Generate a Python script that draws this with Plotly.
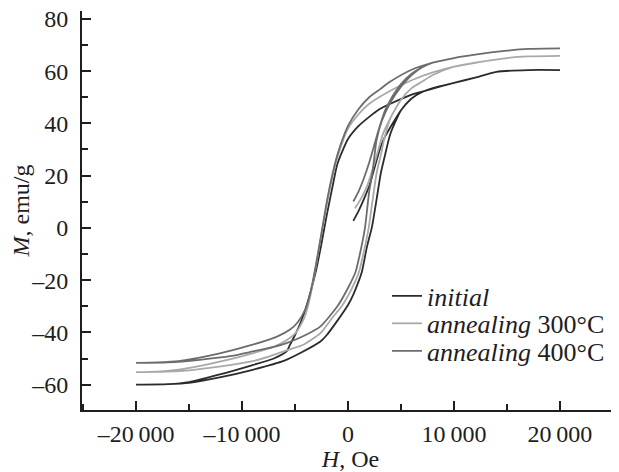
import plotly.graph_objects as go

# ---- data (H in Oe, M in emu/g) ----
series_names = ["<i>initial</i>", "<i>annealing</i> 300°C", "<i>annealing</i> 400°C"]

# initial sample
init0_H = [500, 1000, 1500, 2000, 2500, 3000, 3500, 4000, 5000, 6000, 7000, 8000, 10000, 12000, 14000, 17000, 20000]
init0_M = [2.7, 6.5, 11, 16, 23, 30, 35, 38.5, 45, 49.5, 52, 53.5, 55.5, 57.5, 59.7, 60.4, 60.4]
desc0_H = [20000, 17000, 14000, 12000, 10000, 8000, 6000, 4000, 3000, 2000, 1000, 0, -1000, -1500, -2000, -2500, -3000, -3500, -4000, -4500, -5000, -5500, -5800, -7000, -9000, -12000, -15000, -17000, -20000]
desc0_M = [60.4, 60.4, 59.7, 57.5, 55.5, 53.3, 51, 47.5, 45.5, 42.5, 39, 34, 24.5, 15, 5, -6, -16, -24, -31, -36.5, -41, -45, -47.3, -50, -52.5, -56, -59, -59.8, -60]
asc0_H = [-20000, -17000, -15000, -12000, -9000, -6000, -4500, -2600, -2000, -1000, 0, 500, 1000, 1300, 1800, 2240, 2700, 3100, 3500, 4000, 5000, 6000, 7000, 8000, 10000, 12000, 14000, 17000, 20000]
asc0_M = [-60, -59.8, -59.3, -57.1, -54.3, -50.8, -47.9, -43.5, -41, -35.5, -29.5, -25.5, -20.5, -17, -7, 0, 11, 21, 28, 36, 45, 49.5, 52, 53.5, 55.5, 57.5, 59.7, 60.4, 60.4]

# annealing 300 C
init1_H = [660, 1200, 1800, 2300, 2800, 3300, 4000, 5000, 6000, 7000, 8000, 10000, 12000, 15000, 17000, 20000]
init1_M = [7.5, 11, 16, 22, 29, 36, 42, 49, 53.5, 56, 58.5, 61.7, 63.2, 65, 65.6, 65.8]
desc1_H = [20000, 17000, 15000, 12000, 10000, 8000, 6000, 4000, 2000, 1000, 0, -1000, -1500, -2000, -2500, -3000, -3500, -4000, -4500, -5000, -5800, -7000, -9000, -12000, -16000, -18000, -20000]
desc1_M = [65.8, 65.6, 65, 63.2, 61.7, 59.5, 56.5, 52.5, 47.5, 43.5, 38, 27, 19, 9, -2, -14, -25, -33, -37.5, -40.5, -43, -45.5, -48, -51.1, -54.3, -55, -55.2]
asc1_H = [-20000, -17000, -15000, -12000, -9000, -7400, -5500, -4200, -2600, -1500, -600, 0, 1000, 1500, 1950, 2300, 2700, 3100, 3400, 4000, 5000, 6000, 7000, 8000, 10000, 12000, 15000, 17000, 20000]
asc1_M = [-55.2, -55, -54.5, -53, -51, -49.2, -46.5, -44.7, -40.3, -34.5, -30, -26, -17.3, -9, 0, 10, 21, 28, 33.7, 42, 49, 53.5, 56, 58.5, 61.7, 63.2, 65, 65.6, 65.8]

# annealing 400 C
init2_H = [500, 1000, 1500, 2000, 2500, 3000, 3500, 4000, 5000, 6000, 7000, 8000, 10000, 12000, 15000, 17000, 20000]
init2_M = [10.1, 14, 19, 25, 32, 39, 45, 49, 55, 59, 61.5, 63.2, 65, 66.3, 67.8, 68.5, 68.7]
desc2_H = [20000, 17000, 15000, 12000, 10000, 8000, 6000, 4000, 3000, 2000, 1000, 0, -1000, -1500, -2000, -2500, -3000, -3500, -4000, -4800, -5500, -6700, -9000, -12000, -16000, -18000, -20000]
desc2_M = [68.7, 68.5, 67.8, 66.3, 65, 63.2, 60.5, 56, 53, 50, 45.5, 39, 28, 20, 10, -2, -13.5, -24, -31, -36.4, -39, -41.6, -44.7, -47.9, -51, -51.5, -51.7]
asc2_H = [-20000, -17000, -14000, -11000, -9000, -7000, -5800, -4000, -2600, -1000, 0, 700, 1200, 1600, 2000, 2300, 2700, 3200, 4000, 5000, 6000, 7000, 8000, 10000, 12000, 15000, 17000, 20000]
asc2_M = [-51.7, -51.5, -50.5, -49, -47.3, -45.5, -44.1, -41, -37.7, -30, -23, -17, -8.5, 0, 14, 21, 33.7, 41, 48, 54, 58.5, 61.5, 63.2, 65, 66.3, 67.8, 68.5, 68.7]

line_colors = ["#2b2b2b", "#a9a9a9", "#6c6c6c"]

x_tickvals = [-20000, -10000, 0, 10000, 20000]
x_ticktext = ["\u201320\u2009000", "\u201310\u2009000", "0", "10\u2009000", "20\u2009000"]
y_tickvals = [-60, -40, -20, 0, 20, 40, 60, 80]
y_ticktext = ["\u201360", "\u201340", "\u201320", "0", "20", "40", "60", "80"]

loops = [
    (init0_H, init0_M, desc0_H, desc0_M, asc0_H, asc0_M),
    (init1_H, init1_M, desc1_H, desc1_M, asc1_H, asc1_M),
    (init2_H, init2_M, desc2_H, desc2_M, asc2_H, asc2_M),
]

FONT = "Liberation Serif"
INK = "#1e1e1e"
legend_ids = ["legend", "legend2", "legend3"]
legend_rows_y = [0.286, 0.217, 0.148]

fig = go.Figure()
for name, color, lid, (iH, iM, dH, dM, aH, aM) in zip(series_names, line_colors, legend_ids, loops):
    fig.add_trace(go.Scatter(
        x=iH + dH + aH, y=iM + dM + aM, mode="lines", name=name, legend=lid,
        line=dict(color=color, width=1.8, shape="spline", smoothing=0.6),
    ))

axis_common = dict(
    showline=True, linecolor=INK, linewidth=2, ticks="inside", ticklen=9,
    tickwidth=2, tickcolor=INK, showgrid=False, zeroline=False, mirror=False,
    tickfont=dict(family=FONT, size=24, color=INK), tickmode="array", automargin=False,
    ticklabeloverflow="allow",
)
fig.update_xaxes(
    **axis_common, range=[-25100, 25570], tickvals=x_tickvals, ticktext=x_ticktext,
    ticklabelstandoff=1,
    minor=dict(tickmode="linear", tick0=0, dtick=5000, ticks="inside", ticklen=6, tickwidth=2, tickcolor=INK),
    title=dict(text="<i>H</i>, Oe", font=dict(family=FONT, size=24, color=INK), standoff=0),
)
fig.update_yaxes(
    **axis_common, range=[-69.7, 83], tickvals=y_tickvals, ticktext=y_ticktext,
    ticklabelstandoff=7,
    minor=dict(tickmode="linear", tick0=0, dtick=10, ticks="inside", ticklen=6, tickwidth=2, tickcolor=INK),
    title=dict(text="<i>M</i>, emu/g", font=dict(family=FONT, size=24, color=INK), standoff=2),
)
leg_common = dict(x=0.568, xanchor="left", yanchor="middle", bgcolor="rgba(0,0,0,0)",
                  font=dict(family=FONT, size=26, color=INK))
fig.update_layout(
    width=611, height=464, plot_bgcolor="white", paper_bgcolor="white",
    margin=dict(l=74, r=0, t=3, b=62),
    legend=dict(**leg_common, y=legend_rows_y[0]),
    legend2=dict(**leg_common, y=legend_rows_y[1]),
    legend3=dict(**leg_common, y=legend_rows_y[2]),
    showlegend=True,
)
fig.write_html("out.html")
